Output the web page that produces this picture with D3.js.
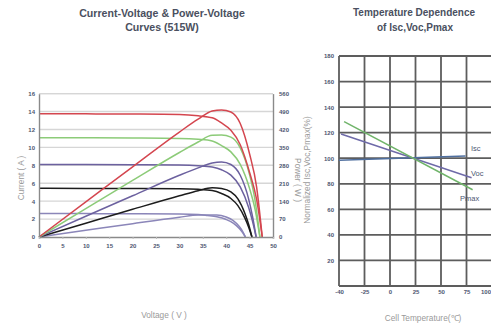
<!DOCTYPE html>
<html>
<head>
<meta charset="utf-8">
<script src="https://cdn.jsdelivr.net/npm/d3@7"></script>
<style>
  body { margin: 0; background: #fff; }
  svg { display: block; font-family: "Liberation Sans", Arial, sans-serif; }
  .tick text { font-size: 6px; font-weight: bold; fill: #4d5671; }
  .title { font-size: 10.6px; font-weight: bold; fill: #4a5060; }
  .axlabel { font-size: 8.3px; fill: #9a9a9a; }
</style>
</head>
<body>
<script>
// ---- left chart: I-V / P-V curves, one row per irradiance level ----
var voltage = [
  [0, 10, 20, 30, 34, 37, 39, 41, 43, 45, 46.5, 47.7],
  [0, 10, 20, 30, 34, 37, 39, 41, 43, 45, 46.2, 47.2],
  [0, 10, 20, 30, 34, 37, 39, 41, 43, 44.8, 45.6, 46.4],
  [0, 10, 20, 30, 34, 37, 39, 41, 42.5, 44, 44.8, 45.5],
  [0, 10, 20, 30, 34, 36, 38, 40, 41.5, 42.8, 43.5, 44.1]
];
var current = [
  [13.75, 13.74, 13.72, 13.66, 13.52, 13.3, 12.72, 11.9, 10.3, 7.2, 4.2, 0],
  [11.08, 11.07, 11.05, 11.0, 10.9, 10.72, 10.2, 9.5, 8.1, 5.4, 3.0, 0],
  [8.1, 8.09, 8.07, 8.03, 7.95, 7.8, 7.5, 6.9, 5.6, 3.3, 1.8, 0],
  [5.43, 5.42, 5.41, 5.38, 5.32, 5.18, 4.85, 4.3, 3.5, 2.1, 1.1, 0],
  [2.62, 2.61, 2.6, 2.58, 2.52, 2.4, 2.25, 1.95, 1.55, 0.95, 0.5, 0]
];
var power = [
  [0, 137, 274, 410, 460, 492, 496, 488, 443, 324, 195, 0],
  [0, 111, 221, 330, 371, 397, 398, 390, 348, 243, 139, 0],
  [0, 81, 161, 241, 270, 289, 293, 283, 241, 148, 82, 0],
  [0, 54, 108, 161, 181, 192, 189, 176, 149, 92, 49, 0],
  [0, 26, 52, 77, 86, 86, 86, 78, 64, 41, 22, 0]
];
var curveColors = ["#d4464f", "#8ccb78", "#6c619f", "#1c1c1c", "#8b86b9"];

var voltTicks = [0, 5, 10, 15, 20, 25, 30, 35, 40, 45, 50];
var currentTicks = [0, 2, 4, 6, 8, 10, 12, 14, 16];
var powerTicks = [0, 70, 140, 210, 280, 350, 420, 490, 560];

// ---- right chart: temperature dependence ----
var tempTicks = [-50, -25, 0, 25, 50, 75, 100];
var tempTickLabels = ["-40", "-25", "0", "25", "50", "75", "100"];
var pctTicks = [20, 40, 60, 80, 100, 120, 140, 160, 180];
var tempNames = ["Isc", "Voc", "Pmax"];
var tempLines = [
  [[-50, 98.5], [74, 101.8]],
  [[-48, 119], [80, 84.7]],
  [[-45, 128.6], [81, 75.3]]
];
var tempColors = ["#4f6f9f", "#6e6aa8", "#70b46a"];

var svg = d3.select("body").append("svg")
    .attr("width", 491)
    .attr("height", 327);

// ================= left chart =================
var x = d3.scaleLinear().domain([0, 50]).range([39, 273]);
var y = d3.scaleLinear().domain([0, 16]).range([237, 93.6]);
var yp = d3.scaleLinear().domain([0, 560]).range([237, 93.6]);

var left = svg.append("g");

left.selectAll("line.grid")
    .data(currentTicks.slice(1))
  .enter().append("line")
    .attr("class", "grid")
    .attr("x1", x(0)).attr("x2", x(50))
    .attr("y1", function(d) { return y(d); })
    .attr("y2", function(d) { return y(d); })
    .style("stroke", "#d6d6d6")
    .style("stroke-width", 1.4);

var ivLine = d3.line()
    .x(function(d) { return x(d[0]); })
    .y(function(d) { return y(d[1]); })
    .curve(d3.curveMonotoneX);
var pvLine = d3.line()
    .x(function(d) { return x(d[0]); })
    .y(function(d) { return yp(d[1]); })
    .curve(d3.curveMonotoneX);

for (var i = voltage.length - 1; i >= 0; i--) {
  var iv = voltage[i].map(function(v, j) { return [v, current[i][j]]; });
  var pv = voltage[i].map(function(v, j) { return [v, power[i][j]]; });
  left.append("path").attr("d", ivLine(iv))
      .style("fill", "none").style("stroke", curveColors[i]).style("stroke-width", 1.5);
  left.append("path").attr("d", pvLine(pv))
      .style("fill", "none").style("stroke", curveColors[i]).style("stroke-width", 1.5);
}

var axL = left.append("g").attr("transform", "translate(" + x(0) + ",0)")
    .call(d3.axisLeft(y).tickValues(currentTicks).tickSize(0).tickPadding(4));
var axR = left.append("g").attr("transform", "translate(" + x(50) + ",0)")
    .call(d3.axisRight(yp).tickValues(powerTicks).tickSize(0).tickPadding(6));
var axB = left.append("g").attr("transform", "translate(0," + y(0) + ")")
    .call(d3.axisBottom(x).tickValues(voltTicks).tickSize(2).tickPadding(5));
[axL, axR, axB].forEach(function(a) {
  a.select(".domain").style("stroke", "#8a8a8a").style("stroke-width", 1.4);
  a.selectAll(".tick line").style("stroke", "#bbb");
});
left.append("line")
    .attr("x1", x(0)).attr("x2", x(50))
    .attr("y1", y(16)).attr("y2", y(16))
    .style("stroke", "#d6d6d6").style("stroke-width", 1.4);

left.append("text").attr("class", "title").attr("x", 162).attr("y", 17)
    .attr("text-anchor", "middle").text("Current-Voltage & Power-Voltage");
left.append("text").attr("class", "title").attr("x", 162).attr("y", 31)
    .attr("text-anchor", "middle").text("Curves (515W)");
left.append("text").attr("class", "axlabel")
    .attr("transform", "translate(24,178) rotate(-90)")
    .attr("text-anchor", "middle").text("Current ( A )");
left.append("text").attr("class", "axlabel")
    .attr("transform", "translate(295,180) rotate(90)")
    .attr("text-anchor", "middle").text("Power ( W )");
left.append("text").attr("class", "axlabel").attr("x", 164).attr("y", 318)
    .attr("text-anchor", "middle").text("Voltage ( V )");

// ================= right chart =================
var tx = d3.scaleLinear().domain([-50, 100]).range([339, 492]);
var ty = d3.scaleLinear().domain([0, 180]).range([286, 56]);

var right = svg.append("g");

right.selectAll("line.vgrid")
    .data(tempTicks)
  .enter().append("line")
    .attr("x1", function(d) { return tx(d); })
    .attr("x2", function(d) { return tx(d); })
    .attr("y1", ty(0)).attr("y2", ty(180))
    .style("stroke", "#5d5d5d").style("stroke-width", 1.8);
right.selectAll("line.hgrid")
    .data([0].concat(pctTicks))
  .enter().append("line")
    .attr("x1", tx(-50)).attr("x2", tx(100))
    .attr("y1", function(d) { return ty(d); })
    .attr("y2", function(d) { return ty(d); })
    .style("stroke", "#5d5d5d").style("stroke-width", 1.8);

var tLine = d3.line()
    .x(function(d) { return tx(d[0]); })
    .y(function(d) { return ty(d[1]); });
right.selectAll("path.temp")
    .data(tempLines)
  .enter().append("path")
    .attr("d", tLine)
    .style("fill", "none")
    .style("stroke", function(d, i) { return tempColors[i]; })
    .style("stroke-width", 1.5);

var axTY = right.append("g").attr("transform", "translate(" + tx(-50) + ",0)")
    .call(d3.axisLeft(ty).tickValues(pctTicks).tickSize(0).tickPadding(5));
var axTX = right.append("g").attr("transform", "translate(0," + ty(0) + ")")
    .call(d3.axisBottom(tx).tickValues(tempTicks).tickSize(0).tickPadding(4)
      .tickFormat(function(d, i) { return tempTickLabels[i]; }));
[axTY, axTX].forEach(function(a) { a.select(".domain").remove(); });
// last label sits at the page edge; keep it inside
axTX.selectAll(".tick text").filter(function(d) { return d === 100; })
    .attr("text-anchor", "end").attr("dx", "-1.5px");

var labelPos = [[471, 151], [471, 176], [460, 201]];
right.selectAll("text.lbl")
    .data(tempNames)
  .enter().append("text")
    .attr("x", function(d, i) { return labelPos[i][0]; })
    .attr("y", function(d, i) { return labelPos[i][1]; })
    .style("font-size", "7.5px")
    .style("fill", "#4d5671")
    .text(function(d) { return d; });

right.append("text").attr("class", "title").attr("x", 414).attr("y", 16)
    .style("font-size", "10px")
    .attr("text-anchor", "middle").text("Temperature Dependence");
right.append("text").attr("class", "title").attr("x", 415).attr("y", 31)
    .style("font-size", "10px")
    .attr("text-anchor", "middle").text("of Isc,Voc,Pmax");
right.append("text").attr("class", "axlabel")
    .attr("transform", "translate(310,170) rotate(-90)")
    .attr("text-anchor", "middle").text("Normalized Isc,Voc,Pmax(%)");
right.append("text").attr("class", "axlabel").attr("x", 423).attr("y", 321)
    .attr("text-anchor", "middle").text("Cell Temperature(℃)");
</script>
</body>
</html>
